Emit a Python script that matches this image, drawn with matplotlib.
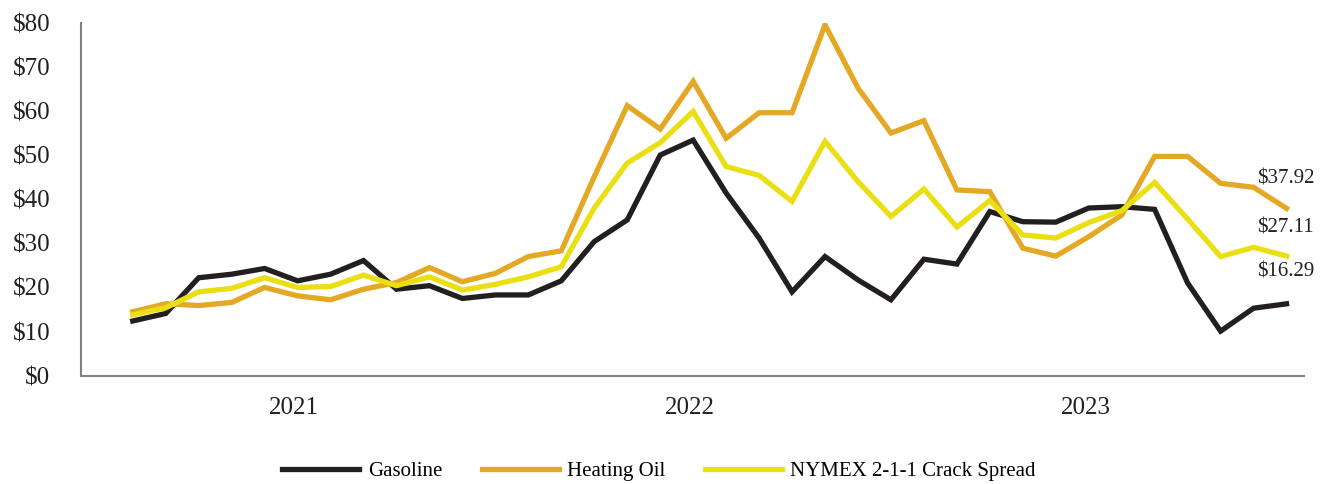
import matplotlib
matplotlib.use("Agg")
import matplotlib.pyplot as plt

months = list(range(36))
year_labels = ["2021", "2022", "2023"]
year_positions = [4.9, 16.9, 28.9]

gasoline = [12.4, 14.1, 22.2, 23.0, 24.3, 21.5, 23.0, 26.1, 19.6, 20.4,
            17.5, 18.3, 18.3, 21.5, 30.4, 35.3, 50.0, 53.4, 41.4, 31.2,
            19.0, 27.0, 21.7, 17.2, 26.4, 25.3, 37.2, 34.9, 34.8, 38.0,
            38.3, 37.7, 21.0, 10.1, 15.3, 16.29]
heating_oil = [14.5, 16.3, 15.9, 16.6, 20.0, 18.1, 17.2, 19.6, 21.1, 24.5,
               21.3, 23.2, 27.0, 28.3, 45.1, 61.2, 55.9, 66.7, 53.8, 59.6,
               59.6, 79.5, 65.2, 55.0, 57.8, 42.1, 41.7, 28.9, 27.1, 31.5,
               36.4, 49.7, 49.7, 43.6, 42.7, 37.92]
crack = [13.8, 15.4, 19.0, 19.8, 22.2, 20.0, 20.2, 22.8, 20.4, 22.4,
         19.4, 20.7, 22.4, 24.7, 38.0, 48.2, 52.8, 59.9, 47.4, 45.4,
         39.5, 53.1, 44.0, 36.1, 42.3, 33.7, 39.7, 31.9, 31.2, 34.7,
         37.4, 43.8, 35.5, 27.0, 29.1, 27.11]

end_labels = ["$37.92", "$27.11", "$16.29"]

c_gas = "#231F20"
c_ho = "#E4A824"
c_crack = "#EADF12"

plt.rcParams['font.family'] = ['Liberation Serif', 'DejaVu Serif']

fig = plt.figure(figsize=(13.29, 4.84), dpi=100)
ax = fig.add_axes([81/1329, 1-375.7/484, (1304-81)/1329, (375.7-22.7)/484])

lw = 3.8
ax.plot(months, gasoline, color=c_gas, lw=lw, label="Gasoline", solid_joinstyle='miter')
ax.plot(months, heating_oil, color=c_ho, lw=lw, label="Heating Oil", solid_joinstyle='miter')
ax.plot(months, crack, color=c_crack, lw=lw, label="NYMEX 2-1-1 Crack Spread", solid_joinstyle='miter')

ax.set_xlim(-1.57, 35.53)
ax.set_ylim(0, 80)
ax.set_yticks(range(0, 81, 10))
ax.set_yticklabels([f"${v}" for v in range(0, 81, 10)])
ax.set_xticks(year_positions)
ax.set_xticklabels(year_labels)
ax.tick_params(axis='both', length=0, labelsize=18, colors="#231F20")
ax.tick_params(axis='y', pad=22)
ax.tick_params(axis='x', pad=15)

for s in ["top", "right"]:
    ax.spines[s].set_visible(False)
for s in ["left", "bottom"]:
    ax.spines[s].set_color("#808285")
    ax.spines[s].set_linewidth(1.5)

# end labels
label_y = [44.6, 33.4, 23.6]
for txt, yv in zip(end_labels, label_y):
    ax.text(34.12, yv, txt, fontsize=15, color="#231F20", ha="left", va="center")

fig.legend(loc="center", bbox_to_anchor=(659/1329, 1-471/484), ncol=3, frameon=False,
           fontsize=15, handlelength=3.7, handletextpad=0.4, columnspacing=1.9)

fig.savefig("out.png", dpi=100)
